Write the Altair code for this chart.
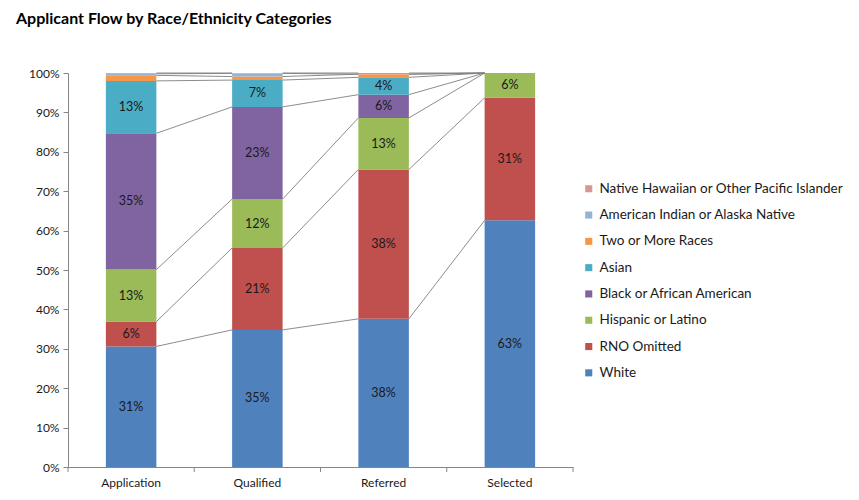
import altair as alt
import pandas as pd

stages = ["Application", "Qualified", "Referred", "Selected"]
races = [
    "White",
    "RNO Omitted",
    "Hispanic or Latino",
    "Black or African American",
    "Asian",
    "Two or More Races",
    "American Indian or Alaska Native",
    "Native Hawaiian or Other Pacific Islander",
]
colors = ["#4F81BD", "#C0504D", "#9BBB59", "#8064A2", "#4BACC6", "#F79646", "#95B3D7", "#D99694"]

white = [30.6, 34.8, 37.6, 62.6]
rno = [6.3, 20.8, 37.9, 31.1]
hispanic = [13.2, 12.4, 13.1, 6.3]
black = [34.6, 23.4, 5.9, 0.0]
asian = [13.3, 6.8, 4.4, 0.0]
two_more = [1.4, 0.9, 0.8, 0.0]
am_indian = [0.4, 0.8, 0.0, 0.0]
nh_pi = [0.2, 0.1, 0.3, 0.0]
series = [white, rno, hispanic, black, asian, two_more, am_indian, nh_pi]

y_ticks = [0, 0.1, 0.2, 0.3, 0.4, 0.5, 0.6, 0.7, 0.8, 0.9, 1.0]

rows = []
tops = {}
for si, st in enumerate(stages):
    cum = 0.0
    for ri, race in enumerate(races):
        v = series[ri][si] / 100.0
        y0 = cum
        cum += v
        rows.append(dict(stage=st, race=race, order=ri, val=v, y0=y0, y1=cum, mid=(y0 + cum) / 2))
        tops[(st, race)] = cum
df = pd.DataFrame(rows)

line_rows = []
for i in range(len(stages) - 1):
    for race in races:
        line_rows.append(dict(stage=stages[i], nxt=stages[i + 1],
                              top=tops[(stages[i], race)], top2=tops[(stages[i + 1], race)]))
ldf = pd.DataFrame(line_rows)

W, H = 505, 394
step = W / 4.0
FONT = "Lato"

xscale = alt.Scale(domain=stages, paddingInner=0.6, paddingOuter=0.3)
yscale = alt.Scale(domain=[0, 1], nice=False, zero=True)

xaxis = alt.Axis(labelAngle=0, ticks=False, labelPadding=10, labelFontSize=12,
                 labelFont=FONT, labelColor="#1a1a1a", domainColor="#868686", title=None)
yaxis = alt.Axis(values=y_ticks, format=".0%", grid=False, tickSize=5, tickColor="#868686",
                 domainColor="#868686", labelFontSize=12, labelFont=FONT,
                 labelColor="#1a1a1a", labelPadding=4, labelOverlap=False, title=None)

legend_domain = races[::-1]
legend_range = colors[::-1]

base = alt.Chart(df)

bars = base.mark_bar().encode(
    x=alt.X("stage:N", scale=xscale, sort=stages, axis=xaxis),
    y=alt.Y("y1:Q", scale=yscale, axis=yaxis),
    y2="y0:Q",
    color=alt.Color("race:N", scale=alt.Scale(domain=legend_domain, range=legend_range),
                    legend=alt.Legend(title=None, orient="none", legendX=514, legendY=109,
                                      symbolType="square", symbolSize=50, symbolStrokeWidth=0,
                                      labelFont=FONT, labelFontSize=13.5, labelColor="#1a1a1a",
                                      rowPadding=11.3, labelLimit=400)),
    order=alt.Order("order:Q"),
)

lines = alt.Chart(ldf).mark_rule(color="#7f7f7f", strokeWidth=0.9).encode(
    x=alt.X("stage:N", scale=xscale, sort=stages, bandPosition=1, axis=xaxis),
    x2=alt.X2("nxt:N", bandPosition=0),
    y=alt.Y("top:Q", scale=yscale, axis=yaxis),
    y2="top2:Q",
)

labels = base.transform_filter(alt.datum.val >= 0.03).mark_text(
    font=FONT, fontSize=12.5, color="#1a1a1a"
).encode(
    x=alt.X("stage:N", scale=xscale, sort=stages, axis=xaxis),
    y=alt.Y("mid:Q", scale=yscale, axis=yaxis),
    text=alt.Text("val:Q", format=".0%"),
)

tick_df = pd.DataFrame({"stage": stages})
xticks = alt.Chart(tick_df).mark_rule(color="#868686", xOffset=-0.3 * step).encode(
    x=alt.X("stage:N", scale=xscale, sort=stages, bandPosition=0, axis=xaxis),
    y=alt.value(H), y2=alt.value(H + 5),
)
xtick_end = alt.Chart(pd.DataFrame({"stage": [stages[-1]]})).mark_rule(
    color="#868686", xOffset=0.3 * step).encode(
    x=alt.X("stage:N", scale=xscale, sort=stages, bandPosition=1, axis=xaxis),
    y=alt.value(H), y2=alt.value(H + 5),
)

chart = alt.layer(bars, lines, labels, xticks, xtick_end).properties(
    width=W, height=H,
    title=alt.TitleParams("Applicant Flow by Race/Ethnicity Categories", anchor="start",
                          font=FONT, fontSize=16, fontWeight="bold", color="#000000",
                          dx=-52, offset=40, frame="group"),
    autosize=alt.AutoSizeParams(type="none"),
    padding={"left": 60, "top": 65, "right": 278, "bottom": 25},
    background="white",
).configure_view(stroke=None)

chart.save("out.html", embed_options={"renderer": "svg", "actions": False})
